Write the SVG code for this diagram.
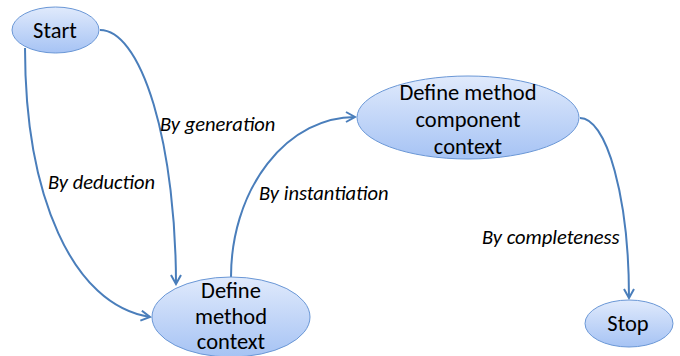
<svg xmlns="http://www.w3.org/2000/svg" width="680" height="356" viewBox="0 0 680 356">
<defs>
<linearGradient id="g" x1="0" y1="0" x2="0" y2="1">
<stop offset="0" stop-color="#e0eafc"/>
<stop offset="1" stop-color="#a6c3f4"/>
</linearGradient>
<marker id="a" viewBox="0 0 12 12" refX="10" refY="6" markerWidth="12" markerHeight="12" markerUnits="userSpaceOnUse" orient="auto">
<path d="M1,1 L10,6 L1,11" fill="none" stroke="#4a7ebb" stroke-width="2"/>
</marker>
<style>
.n{fill:url(#g);stroke:#6a97d6;stroke-width:1}
.t{font-family:Carlito,"Liberation Sans",sans-serif;font-size:22.5px;fill:#000;text-anchor:middle}
.l{font-family:Carlito,"Liberation Sans",sans-serif;font-size:20.5px;font-style:italic;fill:#000}
.c{fill:none;stroke:#4a7ebb;stroke-width:2;marker-end:url(#a)}
</style>
</defs>
<g id="connectors">
<path class="c" d="M25,48 C25,195 72,305 150,317"/>
<path class="c" d="M100,30 A76,255 0 0 1 176,284"/>
<path class="c" d="M231,277 A124,160 0 0 1 355,117"/>
<path class="c" d="M580,118 A49,180 0 0 1 629,298"/>
<text class="l" x="160" y="131">By generation</text>
<text class="l" x="48" y="189">By deduction</text>
<text class="l" x="259" y="200">By instantiation</text>
<text class="l" x="482" y="244">By completeness</text>
</g>
<g id="start">
<ellipse class="n" cx="55.5" cy="30" rx="43.5" ry="23"/>
<text class="t" x="55" y="38">Start</text>
</g>
<g id="define-method-context">
<ellipse class="n" cx="231" cy="317" rx="79" ry="40"/>
<text class="t" x="231" y="298">Define</text>
<text class="t" x="231" y="324">method</text>
<text class="t" x="231" y="349">context</text>
</g>
<g id="define-method-component-context">
<ellipse class="n" cx="468" cy="117.5" rx="111" ry="41.5"/>
<text class="t" x="468" y="100">Define method</text>
<text class="t" x="468" y="127">component</text>
<text class="t" x="468" y="154">context</text>
</g>
<g id="stop">
<ellipse class="n" cx="629" cy="323.5" rx="44" ry="23.5"/>
<text class="t" x="628" y="331">Stop</text>
</g>
</svg>
